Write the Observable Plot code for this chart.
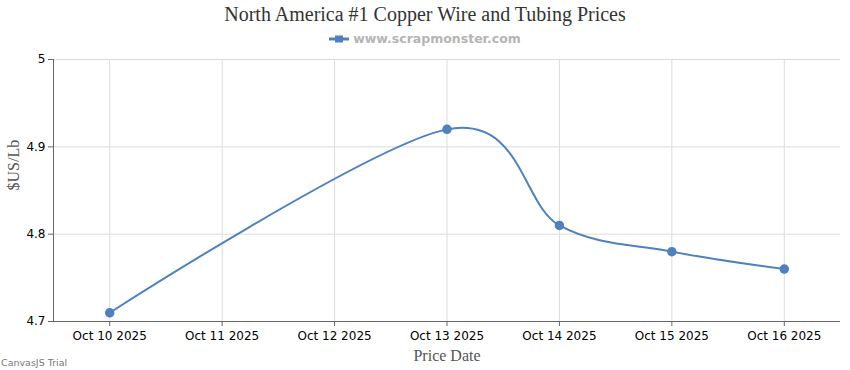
<!DOCTYPE html>
<html>
<head>
<meta charset="utf-8">
<script src="https://cdn.jsdelivr.net/npm/d3@7"></script>
<script src="https://cdn.jsdelivr.net/npm/@observablehq/plot@0.6"></script>
<style>
  html, body { margin: 0; padding: 0; background: #fff; }
  #wrap { position: relative; width: 850px; height: 370px; }
  #title { position: absolute; left: 0; top: 3px; width: 850px; text-align: center;
    font-family: "Liberation Serif", "DejaVu Serif", serif; font-size: 20px; color: #333; }
  #legend { position: absolute; left: 0; top: 31px; width: 850px; text-align: center;
    font-family: "DejaVu Sans", sans-serif; font-size: 12.5px; font-weight: bold; color: #b4b4b4; }
  #legend svg { vertical-align: middle; margin-right: 4px; position: relative; top: -1px; }
  #chart { position: absolute; left: 0; top: 50px; }
  #trial { position: absolute; left: 1px; top: 357px; font-family: "DejaVu Sans", sans-serif;
    font-size: 9.5px; color: #777; }
</style>
</head>
<body>
<div id="wrap">
  <div id="title">North America #1 Copper Wire and Tubing Prices</div>
  <div id="legend"><svg width="20" height="8"><line x1="0" y1="4" x2="20" y2="4" stroke="#4f81bc" stroke-width="3"/><rect x="6" y="0.5" width="8" height="7" fill="#4f81bc"/></svg>www.scrapmonster.com</div>
  <div id="chart"></div>
  <div id="trial">CanvasJS Trial</div>
</div>
<script>
const dates = ["2025-10-10", "2025-10-13", "2025-10-14", "2025-10-15", "2025-10-16"];
const prices = [4.71, 4.92, 4.81, 4.78, 4.76];
const xTickDates = ["2025-10-10", "2025-10-11", "2025-10-12", "2025-10-13", "2025-10-14", "2025-10-15", "2025-10-16"];
const yTicks = [4.7, 4.8, 4.9, 5];
const seriesName = "www.scrapmonster.com";

const data = dates.map((d, i) => ({date: new Date(d + "T00:00:00Z"), price: prices[i]}));
const xTicks = xTickDates.map(d => new Date(d + "T00:00:00Z"));
const fmt = d3.utcFormat("%b %d %Y");
const color = "#4f81bc";
const lab = {fontFamily: "DejaVu Sans, sans-serif", fontSize: 12};

const chart = Plot.plot({
  width: 850,
  height: 320,
  marginLeft: 53,
  marginRight: 10,
  marginTop: 9,
  marginBottom: 49,
  style: {background: "#fff", overflow: "visible"},
  x: {type: "utc", domain: [new Date("2025-10-09T12:00:00Z"), new Date("2025-10-16T12:00:00Z")]},
  y: {domain: [4.7, 5]},
  marks: [
    Plot.gridX(xTicks, {stroke: "#dcdcdc", strokeOpacity: 1}),
    Plot.gridY(yTicks.filter(v => v > 4.7), {stroke: "#dcdcdc", strokeOpacity: 1}),
    Plot.ruleX([new Date("2025-10-09T12:00:00Z")], {stroke: "#666", strokeWidth: 1}),
    Plot.ruleY([4.7], {stroke: "#666", strokeWidth: 1}),
    Plot.axisX({ticks: xTicks, tickFormat: fmt, tickSize: 5, tickPadding: 5, stroke: "#666",
      color: "#000", label: null, ...lab}),
    Plot.axisY({ticks: yTicks, tickFormat: d => String(d), tickSize: 5, tickPadding: 3, stroke: "#666",
      color: "#000", label: null, ...lab}),
    Plot.text(["Price Date"], {frameAnchor: "bottom", dy: 39, fontFamily: "Liberation Serif, serif",
      fontSize: 16, fill: "#555"}),
    Plot.text(["$US/Lb"], {frameAnchor: "left", dx: -40, rotate: -90, fontFamily: "Liberation Serif, serif",
      fontSize: 16, fill: "#555"}),
    Plot.line(data, {x: "date", y: "price", stroke: color, strokeWidth: 2, curve: "cardinal", tension: 0}),
    Plot.dot(data, {x: "date", y: "price", r: 4, fill: color, stroke: color})
  ]
});
document.getElementById("chart").appendChild(chart);
</script>
</body>
</html>
